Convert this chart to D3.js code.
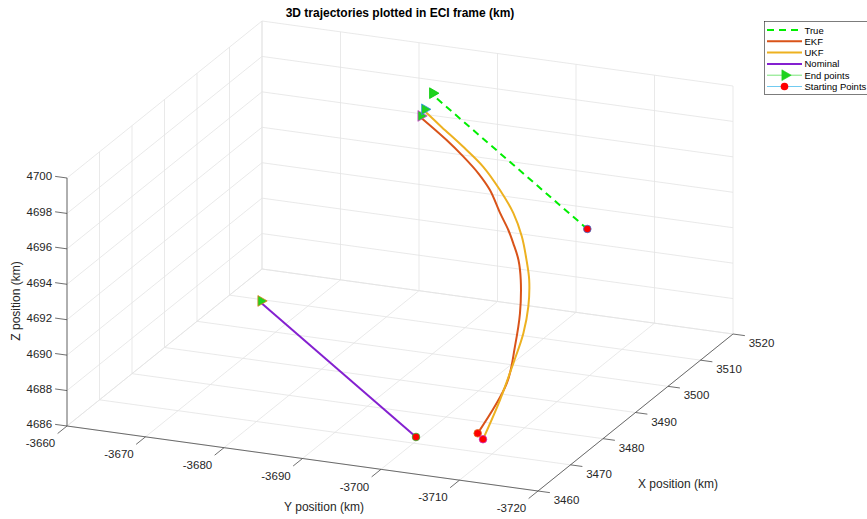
<!DOCTYPE html>
<html>
<head>
<meta charset="utf-8">
<script src="https://cdn.jsdelivr.net/npm/d3@7"></script>
<style>
  body { margin: 0; background: #fff; }
  svg { display: block; font-family: "Liberation Sans", Arial, Helvetica, sans-serif; }
</style>
</head>
<body>
<script>
// axis ranges and ticks
const xDomain = [3460, 3520];
const yDomain = [-3660, -3720];
const zDomain = [4686, 4700];
const xTicks = [3460, 3470, 3480, 3490, 3500, 3510, 3520];
const yTicks = [-3660, -3670, -3680, -3690, -3700, -3710, -3720];
const zTicks = [4686, 4688, 4690, 4692, 4694, 4696, 4698, 4700];

// trajectories (km)
const trueX = [3518.0, 3510.0];
const trueY = [-3702.27, -3685.63];
const trueZ = [4691.14, 4698.97];

const ekfX = [3472.0, 3474.8, 3477.5, 3480.3, 3483.1, 3485.9, 3488.6, 3491.4, 3494.2, 3496.9, 3499.7, 3502.5, 3505.2, 3508.0];
const ekfY = [-3707.35, -3709.90, -3709.81, -3709.30, -3708.24, -3706.79, -3705.01, -3703.22, -3701.02, -3698.60, -3695.96, -3692.90, -3689.64, -3684.97];
const ekfZ = [4686.71, 4689.28, 4690.93, 4692.38, 4693.78, 4694.41, 4694.84, 4695.07, 4695.47, 4696.23, 4696.60, 4696.94, 4697.28, 4697.94];

const ukfX = [3471.0, 3473.9, 3476.85, 3479.8, 3482.7, 3485.6, 3488.5, 3491.5, 3494.4, 3497.3, 3500.2, 3503.2, 3506.1, 3509.0];
const ukfY = [-3708.44, -3709.40, -3709.88, -3709.94, -3709.37, -3708.28, -3706.74, -3704.90, -3702.62, -3699.71, -3696.38, -3692.45, -3688.69, -3685.03];
const ukfZ = [4686.59, 4688.43, 4690.10, 4691.37, 4692.40, 4693.41, 4694.01, 4694.79, 4695.54, 4696.24, 4696.92, 4697.42, 4697.80, 4698.17];

const nomX = [3470.0, 3462.0];
const nomY = [-3700.32, -3683.63];
const nomZ = [4686.37, 4694.21];

const legendLabels = ["True", "EKF", "UKF", "Nominal", "End points", "Starting Points"];

const width = 867, height = 519;
const svg = d3.select("body").append("svg").attr("width", width).attr("height", height);

// normalised box coordinates
const xs = d3.scaleLinear().domain(xDomain).range([0, 1]);
const ys = d3.scaleLinear().domain(yDomain).range([0, 1]);
const zs = d3.scaleLinear().domain(zDomain).range([0, 1]);

// orthographic view: screen vectors of the unit box edges
const O = [67, 426], EX = [195, -157], EY = [471, 65], EZ = [0, -248];
function proj(x, y, z) {
  const a = xs(x), b = ys(y), c = zs(z);
  return [O[0] + a * EX[0] + b * EY[0] + c * EZ[0],
          O[1] + a * EX[1] + b * EY[1] + c * EZ[1]];
}
const seg = (p, q) => `M${p[0]},${p[1]}L${q[0]},${q[1]}`;

const [x0, x1] = xDomain, [y0, y1] = yDomain, [z0, z1] = zDomain;

// grid on the three back planes
const grid = svg.append("g").attr("stroke", "#e3e3e3").attr("stroke-width", 0.8).attr("fill", "none");
const gl = [];
xTicks.forEach(x => {
  gl.push(seg(proj(x, y0, z0), proj(x, y0, z1)));   // left wall
  gl.push(seg(proj(x, y0, z0), proj(x, y1, z0)));   // floor
});
yTicks.forEach(y => {
  gl.push(seg(proj(x1, y, z0), proj(x1, y, z1)));   // back wall
  gl.push(seg(proj(x0, y, z0), proj(x1, y, z0)));   // floor
});
zTicks.forEach(z => {
  gl.push(seg(proj(x0, y0, z), proj(x1, y0, z)));   // left wall
  gl.push(seg(proj(x1, y0, z), proj(x1, y1, z)));   // back wall
});
grid.selectAll("path").data(gl).join("path").attr("d", d => d);

// axes
const axis = svg.append("g").attr("stroke", "#4a4a4a").attr("stroke-width", 0.8).attr("fill", "none");
axis.append("path").attr("d", seg(proj(x0, y0, z0), proj(x0, y1, z0)));   // Y axis
axis.append("path").attr("d", seg(proj(x0, y1, z0), proj(x1, y1, z0)));   // X axis
axis.append("path").attr("d", seg(proj(x0, y0, z0), proj(x0, y0, z1)));   // Z axis

const tickLen = 12;
const unit = v => { const n = Math.hypot(v[0], v[1]); return [v[0] / n, v[1] / n]; };
const ux = unit(EX), uy = unit(EY);

const labels = svg.append("g").attr("fill", "#262626").attr("font-size", 11.5);

yTicks.forEach(y => {
  const p = proj(x0, y, z0);
  axis.append("path").attr("d", seg(p, [p[0] - ux[0] * tickLen, p[1] - ux[1] * tickLen]));
  labels.append("text").attr("x", p[0] - 26.5).attr("y", p[1] + 17.3)
    .attr("text-anchor", "middle").attr("dominant-baseline", "central").text(y);
});
xTicks.forEach(x => {
  const p = proj(x, y1, z0);
  axis.append("path").attr("d", seg(p, [p[0] + uy[0] * tickLen, p[1] + uy[1] * tickLen]));
  labels.append("text").attr("x", p[0] + 28.5).attr("y", p[1] + 9)
    .attr("text-anchor", "middle").attr("dominant-baseline", "central").text(x);
});
zTicks.forEach(z => {
  const p = proj(x0, y0, z);
  const q = [p[0] - uy[0] * tickLen, p[1] - uy[1] * tickLen];
  axis.append("path").attr("d", seg(p, q));
  labels.append("text").attr("x", q[0] - 3).attr("y", q[1])
    .attr("text-anchor", "end").attr("dominant-baseline", "central").text(z);
});

// axis titles
const titles = svg.append("g").attr("fill", "#262626").attr("font-size", 12);
titles.append("text").attr("x", 324).attr("y", 507).attr("text-anchor", "middle")
  .attr("dominant-baseline", "central").text("Y position (km)");
titles.append("text").attr("x", 678).attr("y", 484).attr("text-anchor", "middle")
  .attr("dominant-baseline", "central").text("X position (km)");
titles.append("text").attr("transform", "translate(16,301) rotate(-90)").attr("text-anchor", "middle")
  .attr("dominant-baseline", "central").text("Z position (km)");
svg.append("text").attr("x", 400).attr("y", 17).attr("text-anchor", "middle")
  .attr("font-size", 12).attr("font-weight", "bold").attr("fill", "#000")
  .text("3D trajectories plotted in ECI frame (km)");

// trajectories
const series = [
  {X: trueX, Y: trueY, Z: trueZ, color: "#00ee00", dash: "7,5", endEdge: "#00cc00", startEdge: "#3a6fd0"},
  {X: ekfX, Y: ekfY, Z: ekfZ, color: "#d95319", dash: null, endEdge: "#d040d0", startEdge: "#e07020"},
  {X: ukfX, Y: ukfY, Z: ukfZ, color: "#edb120", dash: null, endEdge: "#3090e0", startEdge: "#d030c0"},
  {X: nomX, Y: nomY, Z: nomZ, color: "#8420d0", dash: null, endEdge: "#e08020", startEdge: "#30b030"}
];
series.forEach(s => { s.pts = s.X.map((x, i) => proj(x, s.Y[i], s.Z[i])); });

const line = d3.line().curve(d3.curveCatmullRom.alpha(0.5));
svg.append("g").attr("fill", "none").attr("stroke-width", 2).attr("stroke-linejoin", "round")
  .selectAll("path").data(series).join("path")
  .attr("stroke", d => d.color)
  .attr("stroke-dasharray", d => d.dash)
  .attr("d", d => line(d.pts));

const tri = d3.symbol().type(d3.symbolTriangle).size(50);
svg.append("g").selectAll("path").data(series).join("path")
  .attr("d", tri)
  .attr("transform", d => { const p = d.pts[d.pts.length - 1]; return `translate(${p[0] + 2},${p[1]}) rotate(90)`; })
  .attr("fill", "#1fd21f").attr("stroke", d => d.endEdge).attr("stroke-width", 0.8);

svg.append("g").selectAll("circle").data(series).join("circle")
  .attr("cx", d => d.pts[0][0]).attr("cy", d => d.pts[0][1]).attr("r", 3.8)
  .attr("fill", "#ff0000").attr("stroke", d => d.startEdge).attr("stroke-width", 0.8);

// legend
const lg = svg.append("g").attr("font-size", 9.5);
lg.append("rect").attr("x", 764.5).attr("y", 21.5).attr("width", 120).attr("height", 73)
  .attr("fill", "#fff").attr("stroke", "#262626").attr("stroke-width", 0.6);
const rowY = i => 30 + i * 11.3;
const lgLines = [
  {color: "#00ee00", w: 2, dash: "7,5"},
  {color: "#d95319", w: 2, dash: null},
  {color: "#edb120", w: 2, dash: null},
  {color: "#8420d0", w: 2, dash: null},
  {color: "#55dd55", w: 0.8, dash: null, marker: "tri"},
  {color: "#4dbeee", w: 0.8, dash: null, marker: "dot"}
];
legendLabels.forEach((t, i) => {
  const s = lgLines[i], y = rowY(i);
  lg.append("path").attr("d", `M767,${y}L802,${y}`).attr("stroke", s.color)
    .attr("stroke-width", s.w).attr("stroke-dasharray", s.dash).attr("fill", "none");
  if (s.marker === "tri") {
    lg.append("path").attr("d", tri).attr("transform", `translate(785,${y}) rotate(90)`)
      .attr("fill", "#1fd21f").attr("stroke", "#1fd21f").attr("stroke-width", 0.6);
  } else if (s.marker === "dot") {
    lg.append("circle").attr("cx", 784.5).attr("cy", y).attr("r", 3.8).attr("fill", "#ff0000");
  }
  lg.append("text").attr("x", 804.5).attr("y", y).attr("dominant-baseline", "central")
    .attr("fill", "#000").text(t);
});
</script>
</body>
</html>
